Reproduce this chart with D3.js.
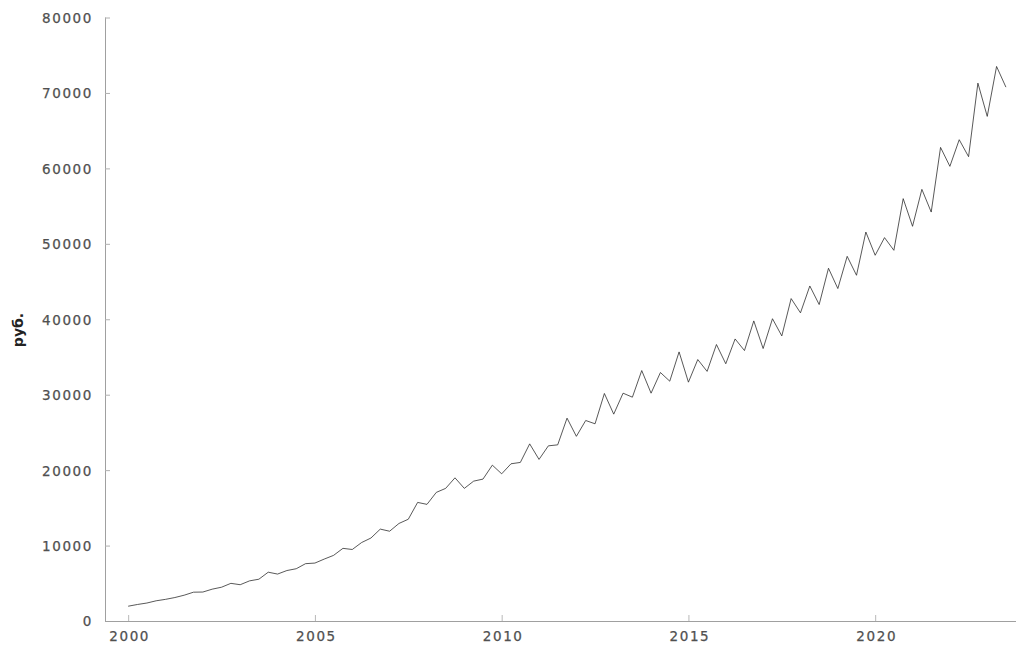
<!DOCTYPE html>
<html>
<head>
<meta charset="utf-8">
<script src="https://cdn.jsdelivr.net/npm/d3@7"></script>
<style>
  html, body { margin: 0; padding: 0; background: #fff; }
  svg { display: block; }
  .tick text { font-family: "DejaVu Sans", Verdana, sans-serif; font-size: 13.5px; fill: #505050; letter-spacing: 1.6px; stroke: #505050; stroke-width: 0.25px; }
</style>
</head>
<body>
<svg id="chart" width="1016" height="648"></svg>
<script>
// Quarterly values, 2000 Q1 .. 2023 Q3 (руб.)
const startYear = 2000;
const values = [
  1960, 2190, 2380, 2680,
  2870, 3110, 3420, 3820,
  3840, 4220, 4480, 4990,
  4810, 5320, 5540, 6470,
  6220, 6690, 6930, 7600,
  7680, 8210, 8700, 9630,
  9480, 10400, 11000, 12180,
  11900, 12930, 13490, 15720,
  15460, 17050, 17580, 18980,
  17580, 18540, 18810, 20660,
  19510, 20840, 21020, 23480,
  21420, 23220, 23350, 26890,
  24480, 26580, 26140, 30160,
  27420, 30200, 29670, 33200,
  30200, 32940, 31790, 35670,
  31660, 34660, 33090, 36650,
  34100, 37390, 35850, 39780,
  36120, 40070, 37790, 42740,
  40850, 44410, 41950, 46760,
  44070, 48340, 45830, 51560,
  48480, 50820, 49140, 55990,
  52320, 57220, 54210, 62780,
  60270, 63800, 61550, 71300,
  66890, 73510, 70770
];
const xTicks = [2000, 2005, 2010, 2015, 2020];
const yTicks = [0, 10000, 20000, 30000, 40000, 50000, 60000, 70000, 80000];
const yTitle = "руб.";

const data = values.map((v, i) => ({ t: startYear + i / 4, v }));

const svg = d3.select("#chart");
const x = d3.scaleLinear().domain([1999.38, 2023.77]).range([105, 1016]);
const y = d3.scaleLinear().domain([0, 80000]).range([621, 17.5]);

// Y axis
const gy = svg.append("g").attr("transform", "translate(105,0)")
  .call(d3.axisRight(y).tickValues(yTicks).tickSize(5).tickPadding(0).tickFormat(d3.format("d")));
gy.select(".domain").attr("stroke", "#a0a0a0").attr("d", `M0.5,${y(80000)}V${y(0)}`);
gy.selectAll(".tick line").attr("stroke", "#b0b0b0");
gy.selectAll(".tick text").attr("text-anchor", "end").attr("x", -12).attr("dy", "0.36em");

// X axis
const gx = svg.append("g").attr("transform", "translate(0,621)")
  .call(d3.axisTop(x).tickValues(xTicks).tickSize(6).tickFormat(d3.format("d")));
gx.select(".domain").attr("stroke", "#a0a0a0").attr("d", `M105,0.5H1016`);
gx.selectAll(".tick line").attr("stroke", "#b8b8b8");
gx.selectAll(".tick text").attr("y", 20).attr("dy", "0").attr("x", 1);

// Line
const line = d3.line().x(d => x(d.t)).y(d => y(d.v));
svg.append("path").datum(data)
  .attr("d", line)
  .attr("fill", "none")
  .attr("stroke", "#222")
  .attr("stroke-width", 0.75)
  .attr("stroke-linejoin", "miter");

// Y title
svg.append("text")
  .attr("transform", "translate(23,330) rotate(-90)")
  .attr("text-anchor", "middle")
  .attr("font-family", "DejaVu Sans, Verdana, sans-serif")
  .attr("font-size", 14)
  .attr("font-weight", "bold")
  .attr("fill", "#222")
  .text(yTitle);
</script>
</body>
</html>
